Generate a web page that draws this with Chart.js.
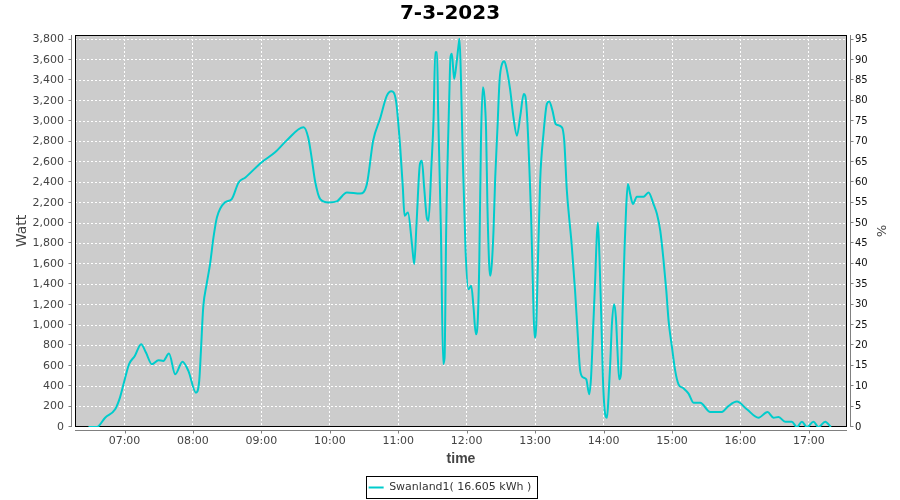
<!DOCTYPE html>
<html>
<head>
    <title>7-3-2023</title>
    <script src="https://cdn.jsdelivr.net/npm/chart.js"></script>
    <style>
        body {
            margin: 0;
            background: #ffffff;
        }

        .chart-container {
            width: 900px;
            height: 500px;
        }
    </style>
</head>
<body>
    <div class="chart-container">
        <canvas id="power-chart"></canvas>
    </div>

    <script>
        // 측정 시각 (자정부터 분) / 출력 (W)
        const timeMin = [
            388.4, 395.8, 403, 411.8, 416, 420.6, 424, 429, 434.6, 438.8,
            444, 449.8, 454, 459, 464.5, 470.8, 476, 482.6, 485.5, 487,
            489, 492, 495, 498, 501, 508, 514, 520, 526, 540,
            552, 562, 577, 581, 584, 587, 591.6, 599, 606, 615,
            626.6, 632.5, 638, 644, 650, 654, 658, 661.7, 664, 665.5,
            668.5, 672, 674, 676, 679, 680.7, 682.7, 685, 686.5, 689,
            691, 692.4, 694, 695, 697.4, 699.4, 700.6, 702, 704.7, 705.8,
            707, 709, 711, 713, 713.7, 715, 716.7, 719, 721.5, 724,
            726, 728, 729.8, 731, 732.5, 734.2, 735.6, 737, 738.2, 739.7,
            740.6, 742, 743.5, 745, 747, 748.8, 751, 753, 755, 758,
            761, 764, 767, 770, 771.3, 773, 774.8, 776.5, 778, 779.5,
            781, 782.4, 784.4, 787.3, 790.3, 792.3, 795.2, 798, 803.5, 805.5,
            807.8, 809.8, 812, 815, 817.5, 819.5, 822.4, 824.8, 827.4, 829,
            831, 832.6, 834, 835, 836.4, 838, 839.4, 841.4, 843, 844.3,
            845.8, 847.3, 849.3, 850.8, 852.2, 853.7, 855.2, 856.6, 858.4, 859.8,
            861.3, 863.3, 865.7, 869.2, 875, 879.4, 883.8, 886.8, 889.7, 892.6,
            895, 897, 900, 902.8, 905.7, 910, 914.5, 918.8, 924.7, 933.5,
            943.7, 949.5, 956.9, 965.6, 975.8, 983.7, 989, 993.4, 999.2, 1005,
            1009.5, 1013.9, 1018.3, 1024, 1028.4, 1034.3, 1039.3
        ];
        const watts = [
            0, 0, 91, 174, 288, 484, 616, 697, 812, 730,
            616, 655, 648, 720, 517, 641, 550, 337, 452, 746,
            1172, 1401, 1598, 1859, 2055, 2203, 2236, 2399, 2448, 2595,
            2694, 2809, 2940, 2841, 2645, 2416, 2236, 2203, 2213, 2301,
            2291, 2383, 2809, 3022, 3250, 3293, 3201, 2743, 2350, 2072,
            2105, 1794, 1598, 1991, 2580, 2612, 2350, 2055, 2023, 2546,
            3037, 3676, 3676, 3071, 1925, 619, 680, 1925, 3234, 3627,
            3660, 3414, 3562, 3758, 3807, 3398, 2580, 1728, 1352, 1385,
            1172, 910, 1073, 1600, 2809, 3332, 3234, 2907, 2154, 1598,
            1483, 1598, 1925, 2448, 2940, 3398, 3562, 3588, 3513, 3316,
            3037, 2858, 3054, 3267, 3250, 3037, 2580, 2055, 1401, 877,
            1008, 1598, 2416, 2874, 3169, 3192, 3103, 2973, 2940, 2809,
            2318, 2055, 1794, 1336, 877, 550, 484, 468, 321, 484,
            1008, 1434, 1859, 2006, 1663, 1073, 484, 125, 91, 288,
            616, 1008, 1205, 1073, 746, 468, 517, 1107, 1761, 2154,
            2383, 2285, 2187, 2259, 2259, 2301, 2187, 2089, 1925, 1630,
            1336, 1041, 779, 550, 419, 380, 327, 239, 239, 147,
            147, 206, 249, 174, 91, 147, 91, 98, 52, 52,
            0, 52, 0, 52, 0, 52, 0
        ];
        const seriesLabel = 'Swanland1( 16.605 kWh )';
        const hourLabels = ['07:00', '08:00', '09:00', '10:00', '11:00', '12:00',
                            '13:00', '14:00', '15:00', '16:00', '17:00'];

        const hourTicks = hourLabels.map(s => {
            const [h, m] = s.split(':').map(Number);
            return h * 60 + m;
        });
        const points = timeMin.map((t, i) => ({x: t, y: watts[i]}));

        // 플롯 배경, 테두리, 축선, 범례 상자
        const framePlugin = {
            id: 'frame',
            beforeDraw(chart) {
                const {ctx, chartArea: a} = chart;
                ctx.save();
                ctx.fillStyle = '#cccccc';
                ctx.fillRect(a.left, a.top, a.right - a.left, a.bottom - a.top);
                ctx.restore();
            },
            beforeDatasetsDraw(chart) {
                const {ctx, chartArea: a} = chart;
                ctx.save();
                ctx.lineWidth = 1;
                ctx.strokeStyle = '#000000';
                ctx.strokeRect(a.left + 0.5, a.top + 0.5, a.right - a.left - 1, a.bottom - a.top - 1);
                ctx.restore();
            },
            afterDraw(chart) {
                const {ctx, chartArea: a, scales} = chart;
                ctx.save();
                ctx.lineWidth = 1;

                ctx.strokeStyle = '#808080';
                ctx.beginPath();
                const lx = a.left - 3.5;
                ctx.moveTo(lx, a.top); ctx.lineTo(lx, a.bottom);
                scales.y.ticks.forEach(t => {
                    const py = Math.round(scales.y.getPixelForValue(t.value)) - 0.5;
                    ctx.moveTo(lx - 3, py); ctx.lineTo(lx, py);
                });
                const rx = a.right + 3.5;
                ctx.moveTo(rx, a.top); ctx.lineTo(rx, a.bottom);
                scales.y1.ticks.forEach(t => {
                    const py = Math.round(scales.y1.getPixelForValue(t.value)) - 0.5;
                    ctx.moveTo(rx, py); ctx.lineTo(rx + 3, py);
                });
                const by = a.bottom + 3.5;
                ctx.moveTo(a.left, by); ctx.lineTo(a.right, by);
                scales.x.ticks.forEach(t => {
                    const px = Math.round(scales.x.getPixelForValue(t.value)) + 0.5;
                    ctx.moveTo(px, by); ctx.lineTo(px, by + 3);
                });
                ctx.stroke();

                const hb = chart.legend.legendHitBoxes[0];
                if (hb) {
                    ctx.strokeStyle = '#000000';
                    ctx.strokeRect(Math.round(hb.left) - 2.5, Math.round(hb.top) - 5.5,
                                   Math.round(hb.width) + 8, Math.round(hb.height) + 11);
                }
                ctx.restore();
            }
        };

        const ctx = document.getElementById('power-chart').getContext('2d');
        const chart = new Chart(ctx, {
            type: 'line',
            data: {
                datasets: [
                    {
                        label: seriesLabel,
                        data: points,
                        borderColor: '#00cccc',
                        backgroundColor: '#00cccc',
                        borderWidth: 2,
                        pointRadius: 0,
                        fill: false,
                        cubicInterpolationMode: 'monotone',
                        yAxisID: 'y'
                    }
                ]
            },
            options: {
                responsive: true,
                maintainAspectRatio: false,
                animation: false,
                layout: {
                    padding: {top: 0, left: 0, right: 0, bottom: -3}
                },
                plugins: {
                    title: {
                        display: true,
                        text: '7-3-2023',
                        color: '#000000',
                        font: {family: 'DejaVu Sans', size: 20, weight: 'bold'},
                        padding: {top: 2, bottom: 9}
                    },
                    legend: {
                        display: true,
                        position: 'bottom',
                        labels: {
                            usePointStyle: true,
                            pointStyle: 'line',
                            pointStyleWidth: 15,
                            padding: 10,
                            color: '#333333',
                            font: {family: 'DejaVu Sans', size: 11}
                        }
                    },
                    tooltip: {enabled: false}
                },
                scales: {
                    x: {
                        type: 'linear',
                        min: 376.6,
                        max: 1053.4,
                        afterBuildTicks: scale => {
                            scale.ticks = hourTicks.map(v => ({value: v}));
                        },
                        afterFit: scale => { scale.height = 45; },
                        ticks: {
                            padding: 8,
                            color: '#444444',
                            font: {family: 'DejaVu Sans', size: 11},
                            maxRotation: 0,
                            callback: value => hourLabels[hourTicks.indexOf(value)]
                        },
                        grid: {color: '#ffffff', lineWidth: 1, drawTicks: false},
                        border: {display: false, dash: [2, 2]},
                        title: {
                            display: true,
                            text: 'time',
                            color: '#444444',
                            font: {family: 'Liberation Sans', size: 14, weight: 'bold'},
                            padding: {top: 0, bottom: 4}
                        }
                    },
                    y: {
                        position: 'left',
                        min: 0,
                        max: 3845,
                        afterFit: scale => { scale.width = 75; },
                        ticks: {
                            stepSize: 200,
                            includeBounds: false,
                            padding: 11,
                            color: '#444444',
                            font: {family: 'DejaVu Sans', size: 11},
                            callback: value => value.toLocaleString('en-US')
                        },
                        grid: {color: '#ffffff', lineWidth: 1, drawTicks: false},
                        border: {display: false, dash: [2, 2]},
                        title: {
                            display: true,
                            text: 'Watt',
                            color: '#444444',
                            font: {family: 'DejaVu Sans', size: 14},
                            padding: {top: 14, bottom: 0}
                        }
                    },
                    y1: {
                        position: 'right',
                        min: 0,
                        max: 96.125,
                        afterFit: scale => { scale.width = 53; },
                        ticks: {
                            stepSize: 5,
                            includeBounds: false,
                            padding: 8,
                            color: '#111111',
                            font: {family: 'DejaVu Sans', size: 10}
                        },
                        grid: {display: false, drawTicks: false},
                        border: {display: false},
                        title: {
                            display: true,
                            text: '%',
                            color: '#444444',
                            font: {family: 'DejaVu Sans', size: 13},
                            padding: {top: 12, bottom: 0}
                        }
                    }
                }
            },
            plugins: [framePlugin]
        });
    </script>
</body>
</html>
